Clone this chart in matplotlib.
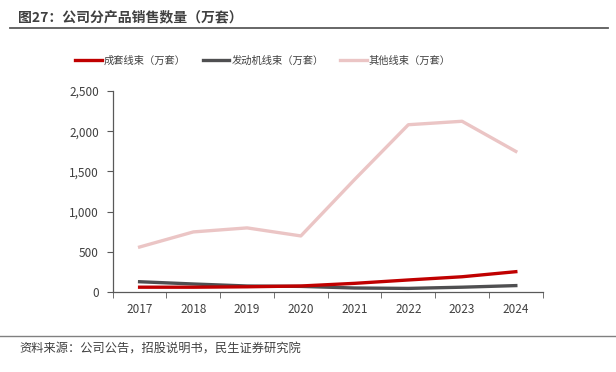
import matplotlib
matplotlib.use("Agg")
import matplotlib.pyplot as plt
import numpy as np

plt.rcParams['font.family'] = ['Noto Sans CJK SC', 'DejaVu Sans']

years = ["2017", "2018", "2019", "2020", "2021", "2022", "2023", "2024"]
chengtao = [60, 60, 65, 75, 108, 150, 190, 253]
fadongji = [128, 100, 75, 70, 50, 45, 60, 80]
qita = [560, 748, 798, 698, 1400, 2082, 2125, 1750]

names = ["成套线束（万套）", "发动机线束（万套）", "其他线束（万套）"]
colors = ["#C00000", "#4F4F51", "#EBC5C5"]

fig = plt.figure(figsize=(6.16, 3.72), dpi=100)
ax = fig.add_axes([0.183, 0.215, 0.698, 0.54])

x = np.arange(len(years))
# pink underneath, then grey, red on top
ax.plot(x, qita, color=colors[2], lw=2.4, label=names[2], zorder=2)
ax.plot(x, fadongji, color=colors[1], lw=2.4, label=names[1], zorder=3)
ax.plot(x, chengtao, color=colors[0], lw=2.4, label=names[0], zorder=4)

ax.set_xlim(-0.5, len(years) - 0.5)
ax.set_ylim(0, 2500)
ax.set_yticks(range(0, 2501, 500))
ax.set_yticklabels([f"{v:,}" for v in range(0, 2501, 500)])
ax.set_xticks(x)
ax.set_xticklabels(years)
ax.set_xticks(np.arange(-0.5, len(years)), minor=True)
ax.tick_params(axis='x', which='major', length=0, pad=8, labelsize=8.5, colors="#404040")
ax.tick_params(axis='x', which='minor', length=4, color="#595959", direction='out')
ax.tick_params(axis='y', length=4, pad=6, color="#595959", labelsize=8.5, colors="#404040")
for s in ["top", "right"]:
    ax.spines[s].set_visible(False)
for s in ["left", "bottom"]:
    ax.spines[s].set_color("#595959")
    ax.spines[s].set_linewidth(0.9)

h, l = ax.get_legend_handles_labels()
order = [2, 1, 0]
fig.legend([h[i] for i in order], [l[i] for i in order], loc='center',
           bbox_to_anchor=(0.427, 0.836), ncol=3, frameon=False, fontsize=7.4,
           handlelength=2.6, columnspacing=1.6, handletextpad=0.2,
           labelcolor="#404040")

fig.text(0.029, 0.952, "图27：公司分产品销售数量（万套）", fontsize=10, fontweight='bold',
         color="#404040", va='center')
fig.add_artist(plt.Line2D([0.016, 0.987], [0.924, 0.924], color="#5A5A5A", lw=1.3))
fig.add_artist(plt.Line2D([0.0, 1.0], [0.097, 0.097], color="#808080", lw=1.0))
fig.text(0.032, 0.063, "资料来源：公司公告，招股说明书，民生证券研究院", fontsize=8.8,
         color="#404040", va='center')

fig.savefig("out.png", dpi=100)
